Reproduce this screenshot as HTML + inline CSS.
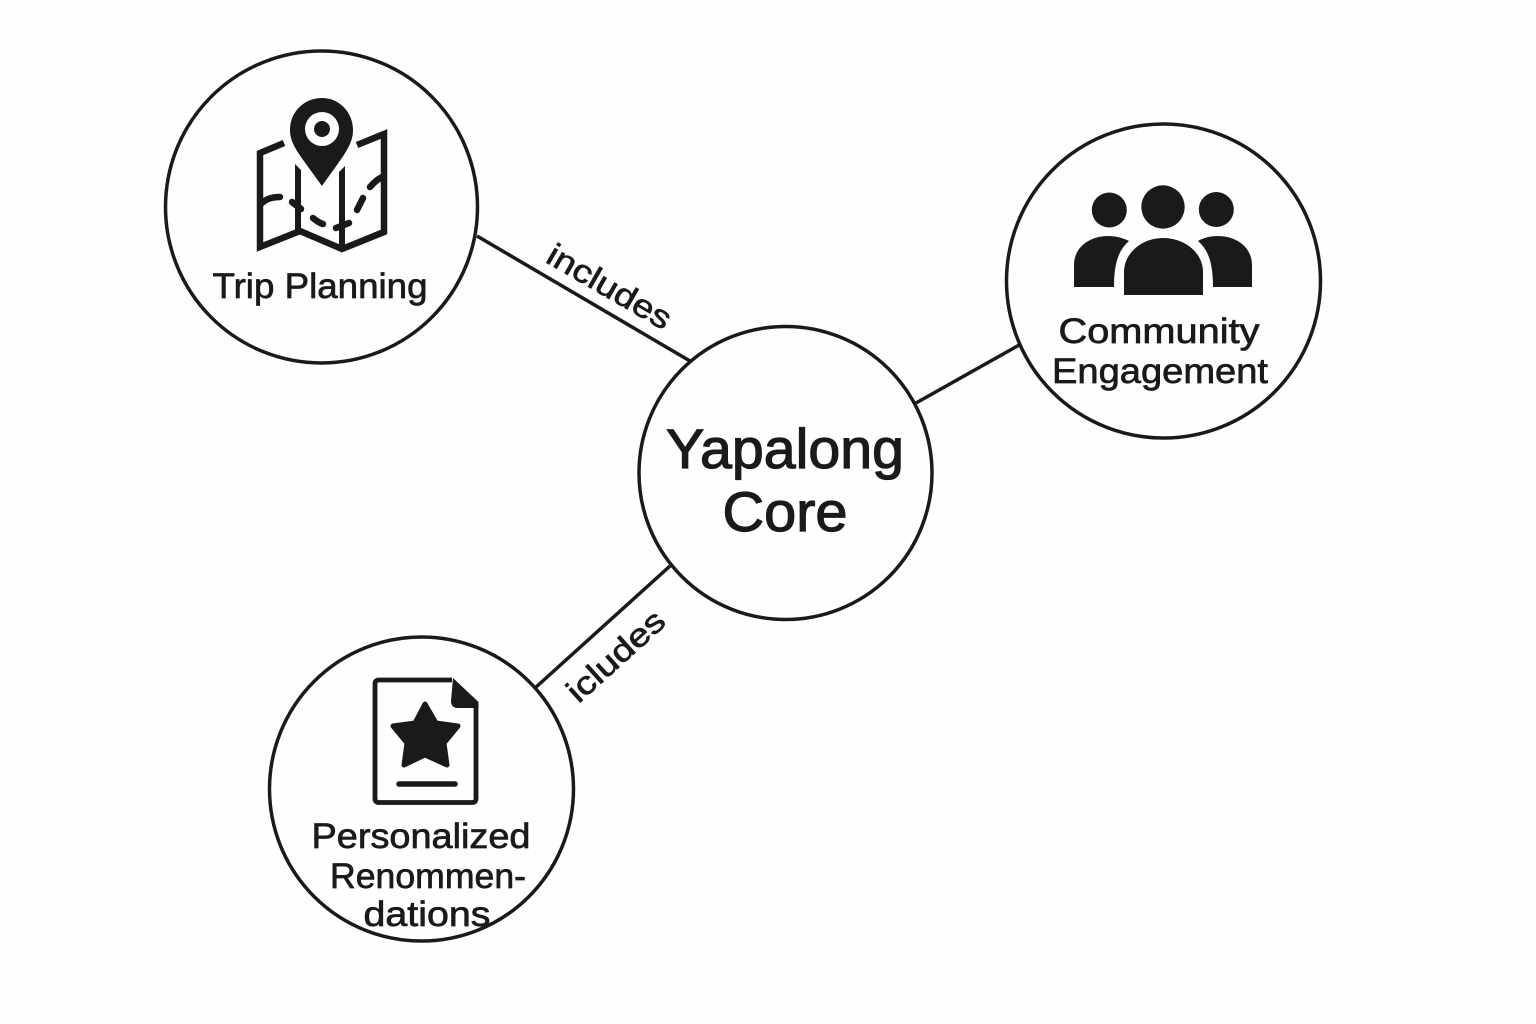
<!DOCTYPE html>
<html><head><meta charset="utf-8"><style>
html,body{margin:0;padding:0;background:#fefefe}
svg{display:block}
text{font-family:"Liberation Sans",sans-serif;fill:#1a1a1a;stroke:#1a1a1a;stroke-width:.7px;text-anchor:middle}
</style></head><body>
<svg width="1536" height="1024" viewBox="0 0 1536 1024" xmlns="http://www.w3.org/2000/svg">
<rect width="1536" height="1024" fill="#fefefe"/>
<g stroke="#1a1a1a" stroke-width="3.5" fill="none">
<line x1="477" y1="236" x2="690" y2="361"/>
<line x1="916" y1="403" x2="1021" y2="344"/>
<line x1="670" y1="566" x2="535" y2="688"/>
<circle cx="321.500" cy="207" r="156"/>
<circle cx="1163.500" cy="281" r="157"/>
<circle cx="785.500" cy="473" r="146.500"/>
<circle cx="421.500" cy="789" r="152"/>
</g>
<!-- map icon -->
<g fill="none" stroke="#1a1a1a" stroke-width="6.500" stroke-linecap="round" stroke-linejoin="round">
<path d="M284 143 L260 153 V247 L300 231 L342 249 L384 232 V134 L357 145" stroke-linecap="butt" stroke-linejoin="miter"/>
<path d="M262 203 Q268 197 280 197"/>
<path d="M292 202 L301 209"/>
<path d="M313 218 Q319 223 323 224"/>
<path d="M336 228 L349 223"/>
<path d="M357 210 L363 198"/>
<path d="M370 187 Q376 180 382 177"/>
</g>
<path d="M295 164 L301 170 V232 H295Z M339 172 L345 166 V250 H339Z" fill="#1a1a1a"/>
<path d="M322 98 C304 98 290 112 290 130 C290 145 300 155 322 186 C344 155 353 145 353 130 C353 112 339 98 322 98Z" fill="#1a1a1a"/>
<circle cx="322" cy="129" r="17" fill="#fefefe"/>
<circle cx="322" cy="129" r="8" fill="#1a1a1a"/>
<!-- people icon -->
<g fill="#1a1a1a">
<circle cx="1109.300" cy="210" r="17.500"/>
<circle cx="1163" cy="207" r="21.700"/>
<circle cx="1216.300" cy="209.500" r="17.500"/>
<path d="M1074 287 V265 C1074 247 1090 236 1108 236 C1116 236 1123 238 1129 241 C1119 250 1114 262 1114 287Z"/>
<path d="M1252 287 V265 C1252 247 1236 236 1218 236 C1210 236 1203 238 1198 241 C1208 250 1213 262 1213 287Z"/>
<path d="M1124 295 V272 C1124 253 1142 238 1163 238 C1185 238 1203 253 1203 272 V295Z"/>
</g>
<!-- doc icon -->
<path d="M452 680 H379 Q375 680 375 684 V798.500 Q375 802.500 379 802.500 H472 Q476 802.500 476 798.500 V704" fill="none" stroke="#1a1a1a" stroke-width="4.800"/>
<path d="M453 678 L478.500 702 V708 H458 Q451 708 451 701Z" fill="#1a1a1a"/>
<path d="M425 704 L436 723 L458 726 L444 743 L447 765 L425 755 L404 765 L407 743 L393 726 L415 723Z" fill="#1a1a1a" stroke="#1a1a1a" stroke-width="5" stroke-linejoin="round"/>
<line x1="399" y1="784" x2="455" y2="784" stroke="#1a1a1a" stroke-width="5.500" stroke-linecap="round"/>
<!-- labels -->
<text x="320" y="298" font-size="35" textLength="215" lengthAdjust="spacingAndGlyphs">Trip Planning</text>
<text x="1159" y="343" font-size="35" textLength="201" lengthAdjust="spacingAndGlyphs">Community</text>
<text x="1160" y="383" font-size="35" textLength="216" lengthAdjust="spacingAndGlyphs">Engagement</text>
<text x="785" y="468" font-size="56" textLength="238" lengthAdjust="spacingAndGlyphs" style="stroke-width:1.200px">Yapalong</text>
<text x="785" y="531" font-size="56" textLength="125" lengthAdjust="spacingAndGlyphs" style="stroke-width:1.200px">Core</text>
<text x="421" y="848" font-size="35" textLength="219" lengthAdjust="spacingAndGlyphs">Personalized</text>
<text x="428" y="888" font-size="35" textLength="196" lengthAdjust="spacingAndGlyphs">Renommen-</text>
<text x="427" y="926" font-size="35" textLength="127" lengthAdjust="spacingAndGlyphs">dations</text>
<text transform="translate(604 296) rotate(30)" font-size="32" textLength="138" lengthAdjust="spacingAndGlyphs">includes</text>
<text transform="translate(623 664) rotate(-42)" font-size="32" textLength="120" lengthAdjust="spacingAndGlyphs">icludes</text>
</svg>
</body></html>
